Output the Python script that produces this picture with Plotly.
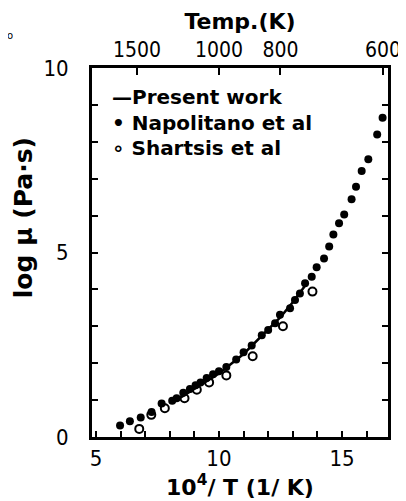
import plotly.graph_objects as go

# Napolitano et al (filled dots): 10^4/T, log mu
nap_x = [5.98, 6.38, 6.82, 7.26, 7.67, 8.1, 8.28, 8.55, 8.82, 9.05, 9.25, 9.5, 9.76, 10.0,
         10.3, 10.7, 11.0, 11.33, 11.74, 12.0, 12.28, 12.48, 12.89, 13.09, 13.29, 13.5,
         13.77, 13.97, 14.27, 14.48, 14.65, 14.88, 15.09, 15.39, 15.57, 15.8, 16.07,
         16.43, 16.65]
nap_y = [0.31, 0.43, 0.53, 0.68, 0.91, 0.98, 1.05, 1.2, 1.3, 1.4, 1.48, 1.6, 1.7, 1.78,
         1.9, 2.1, 2.3, 2.48, 2.76, 2.9, 3.08, 3.31, 3.49, 3.71, 3.89, 4.17,
         4.34, 4.6, 4.84, 5.16, 5.49, 5.79, 6.03, 6.44, 6.78, 7.21, 7.53,
         8.2, 8.65]

# Shartsis et al (open circles)
sha_x = [6.76, 7.25, 7.8, 8.6, 9.1, 9.6, 10.3, 11.37, 12.6, 13.8]
sha_y = [0.22, 0.6, 0.78, 1.05, 1.28, 1.48, 1.67, 2.19, 3.0, 3.94]

# Present work (solid line)
pw_x = [8.4, 9.0, 10.0, 11.0, 12.0, 12.5, 13.0, 13.5]
pw_y = [1.05, 1.3, 1.72, 2.25, 2.9, 3.25, 3.65, 4.1]

# Bottom axis ticks
x_ticks = list(range(5, 17))
x_ticklabels = ["5", "", "", "", "", "10", "", "", "", "", "15", ""]

# Left axis ticks
y_ticks = list(range(0, 11))
y_ticklabels = ["0", "", "", "", "", "5", "", "", "", "", "10"]

# Top axis: temperatures
temp_k = [1500, 1000, 800, 600]
temp_pos = [1e4 / t for t in temp_k]
temp_labels = [str(t) for t in temp_k]

x_range = [4.84, 16.87]
y_range = [0, 10]

TXT = "DejaVu Sans"
NUM = "DejaVu Sans Condensed, DejaVu Sans"

fig = go.Figure()
fig.add_trace(go.Scatter(x=pw_x, y=pw_y, mode="lines",
                         line=dict(color="black", width=2.5), showlegend=False))
fig.add_trace(go.Scatter(x=nap_x, y=nap_y, mode="markers",
                         marker=dict(color="black", size=8, symbol="circle"),
                         showlegend=False))
fig.add_trace(go.Scatter(x=sha_x, y=sha_y, mode="markers",
                         marker=dict(color="black", size=8, symbol="circle-open",
                                     line=dict(width=2)),
                         showlegend=False))
# invisible trace to activate top axis
fig.add_trace(go.Scatter(x=temp_pos, y=[None]*4, xaxis="x2", mode="markers",
                         showlegend=False, hoverinfo="skip"))

# page body has an 8px margin, so the figure is 8px smaller and margins shifted
fig.update_layout(
    width=398, height=493,
    margin=dict(l=84, r=18, t=60, b=64),
    paper_bgcolor="white", plot_bgcolor="white",
    font=dict(family=TXT, color="black"),
    xaxis=dict(range=x_range, tickvals=x_ticks, ticktext=x_ticklabels, automargin=False,
               showgrid=False, zeroline=False, showline=True, linecolor="black",
               linewidth=3, mirror=True, ticks="inside", ticklen=6, tickwidth=2,
               tickcolor="black", ticklabelstandoff=0,
               tickfont=dict(family=NUM, size=22, color="black"),
               title=dict(text="10<sup>4</sup>/ T (1/ K)",
                          font=dict(family=TXT, size=22, weight="bold"), standoff=0)),
    xaxis2=dict(range=x_range, overlaying="x", side="top", tickvals=temp_pos,
                ticktext=temp_labels, showgrid=False, zeroline=False, automargin=False,
                ticks="inside", ticklen=7, tickwidth=2, tickcolor="black",
                ticklabelstandoff=6,
                tickfont=dict(family=NUM, size=21, color="black"),
                title=dict(text="Temp.(K)", font=dict(family=TXT, size=22, weight="bold"),
                           standoff=2)),
    yaxis=dict(range=y_range, tickvals=y_ticks, ticktext=y_ticklabels, automargin=False,
               showgrid=False, zeroline=False, showline=True, linecolor="black",
               linewidth=3, mirror="ticks", ticks="inside", ticklen=6, tickwidth=2,
               tickcolor="black", ticklabelstandoff=16,
               tickfont=dict(family=NUM, size=22, color="black")),
)

# y-axis title (placed above the centre, as in the original)
fig.add_annotation(text="log μ (Pa·s)", xref="paper", yref="paper", x=-0.233, y=0.593,
                   xanchor="center", yanchor="middle", textangle=-90, showarrow=False,
                   font=dict(family=TXT, size=25, weight="bold", color="black"))

legend_items = [("—Present work", 0.921), ("• Napolitano et al", 0.852), ("∘ Shartsis et al", 0.784)]
for txt, yy in legend_items:
    fig.add_annotation(text=txt, xref="paper", yref="paper", x=0.06, y=yy,
                       xanchor="left", yanchor="middle", showarrow=False,
                       font=dict(family=TXT, size=20, weight="bold", color="black"))

fig.add_annotation(text="o", xref="paper", yref="paper", x=-0.277, y=1.089,
                   xanchor="center", yanchor="middle",
                   showarrow=False, font=dict(family=TXT, size=10, color="black"))

fig.write_html("out.html")
